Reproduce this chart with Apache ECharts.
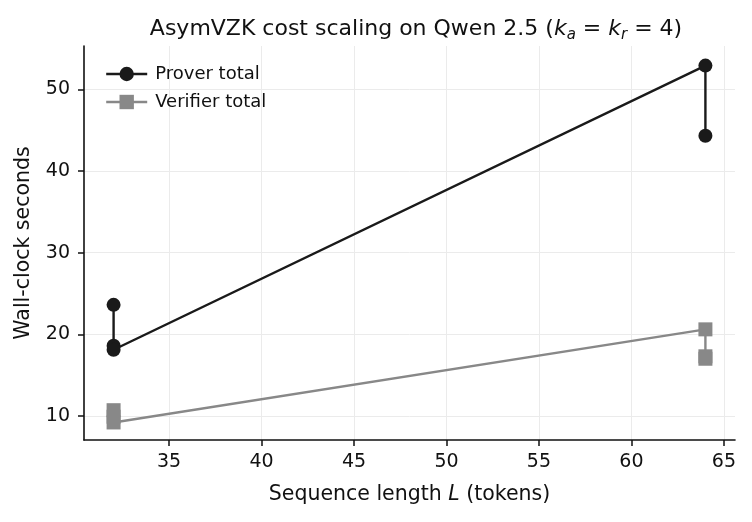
<!DOCTYPE html>
<html>
<head>
    <meta charset="UTF-8">
    <title>AsymVZK cost scaling</title>
    <style>
        html, body { margin: 0; padding: 0; background: #fff; }
        #box { width: 752px; height: 522px; }
    </style>
    <script src="https://cdn.jsdelivr.net/npm/echarts@6/dist/echarts.min.js"></script>
</head>
<body>
<div id="box"></div>
<script>
    // data
    var proverX = [32, 32, 32, 64, 64];
    var proverY = [23.6, 18.6, 18.1, 52.9, 44.3];
    var verifierX = [32, 32, 32, 64, 64, 64];
    var verifierY = [10.7, 9.9, 9.2, 20.6, 17.3, 17.0];
    var xTicks = [35, 40, 45, 50, 55, 60, 65];
    var yTicks = [10, 20, 30, 40, 50];

    function pairs(xs, ys) {
        var out = [];
        for (var i = 0; i < xs.length; i++) out.push([xs[i], ys[i]]);
        return out;
    }

    var font = 'DejaVu Sans';
    var ink = '#111111';
    var myChart = echarts.init(document.getElementById('box'));
    var option = {
        backgroundColor: '#ffffff',
        animation: false,
        textStyle: { fontFamily: font },
        title: {
            text: '{n|AsymVZK cost scaling on Qwen 2.5 (}{i|k}{s|a}{n| = }{i|k}{s|r}{n| = 4)}',
            left: 411,
            textAlign: 'center',
            top: 11,
            textStyle: {
                fontWeight: 'normal',
                rich: {
                    n: { fontFamily: font, fontSize: 22, fontWeight: 'normal', color: ink },
                    i: { fontFamily: font, fontSize: 22, fontWeight: 'normal', fontStyle: 'italic', color: ink },
                    s: { fontFamily: font, fontSize: 15, fontWeight: 'normal', fontStyle: 'italic', color: ink, padding: [12, 0, 0, 0] }
                }
            }
        },
        legend: {
            orient: 'vertical',
            left: 100,
            top: 60,
            itemWidth: 41,
            itemHeight: 18,
            itemGap: 10,
            lineStyle: { width: 2.4 },
            textStyle: { fontFamily: font, fontSize: 18, color: ink, padding: [0, 0, 0, 3] },
            data: ['Prover total', 'Verifier total']
        },
        grid: {
            left: 84,
            right: 17,
            top: 46,
            bottom: 82
        },
        xAxis: {
            type: 'value',
            min: 30.4,
            max: 65.6,
            name: '{n|Sequence length }{i|L}{n| (tokens)}',
            nameLocation: 'middle',
            nameGap: 44,
            nameTextStyle: {
                rich: {
                    n: { fontFamily: font, fontSize: 20.5, color: ink },
                    i: { fontFamily: font, fontSize: 20.5, fontStyle: 'italic', color: ink }
                }
            },
            axisLine: { lineStyle: { color: ink, width: 1.6 } },
            axisTick: { show: true, length: 6, lineStyle: { color: ink, width: 1.5 }, customValues: xTicks },
            axisLabel: { fontSize: 19, color: ink, margin: 13, customValues: xTicks },
            splitLine: { show: true, lineStyle: { color: '#ebebeb', width: 1 } }
        },
        yAxis: {
            type: 'value',
            min: 7.05,
            max: 55.3,
            name: 'Wall-clock seconds',
            nameLocation: 'middle',
            nameGap: 50,
            nameTextStyle: { fontFamily: font, fontSize: 20.5, color: ink },
            axisLine: { show: true, lineStyle: { color: ink, width: 1.6 } },
            axisTick: { show: true, length: 6, lineStyle: { color: ink, width: 1.5 }, customValues: yTicks },
            axisLabel: { fontSize: 19, color: ink, margin: 14, customValues: yTicks },
            splitLine: { show: true, lineStyle: { color: '#ebebeb', width: 1 } }
        },
        series: [
            {
                name: 'Prover total',
                type: 'line',
                symbol: 'circle',
                symbolSize: 14,
                color: '#1a1a1a',
                lineStyle: { width: 2.4, color: '#1a1a1a' },
                itemStyle: { color: '#1a1a1a' },
                data: pairs(proverX, proverY)
            },
            {
                name: 'Verifier total',
                type: 'line',
                symbol: 'rect',
                symbolSize: 14,
                color: '#888888',
                lineStyle: { width: 2.4, color: '#888888' },
                itemStyle: { color: '#888888' },
                data: pairs(verifierX, verifierY)
            }
        ]
    };
    myChart.setOption(option);
</script>
</body>
</html>
